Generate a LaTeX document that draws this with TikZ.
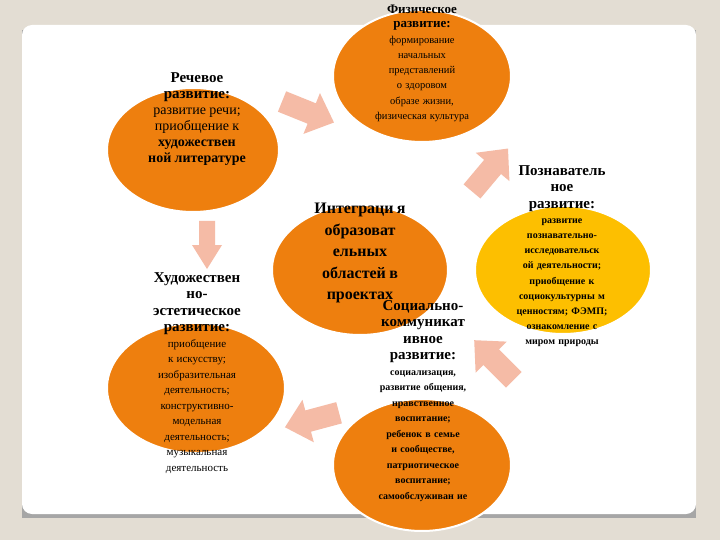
\documentclass[tikz,border=0pt]{standalone}
\usepackage{fontspec}
\setmainfont{Liberation Serif}
\definecolor{bg}{HTML}{E3DDD3}
\definecolor{org}{HTML}{EE7F0E}
\definecolor{yel}{HTML}{FDBF00}
\definecolor{arr}{HTML}{F5BBA6}
\newcommand\myTf{\fontsize{15}{16.5}\selectfont\bfseries}
\begin{document}
\begin{tikzpicture}[x=1pt,y=-1pt,
 ell/.style={draw=white,line width=2pt,fill=#1},
 txt/.style={align=center,text width=#1,inner sep=0pt},
 barrow/.pic={\fill[arr] (-28,-11) -- (4,-11) -- (4,-22) -- (28,0) -- (4,22) -- (4,11) -- (-28,11) -- cycle;},
 sarrow/.pic={\fill[arr] (-24,-8) -- (0,-8) -- (0,-15) -- (24,0) -- (0,15) -- (0,8) -- (-24,8) -- cycle;}]
\fill[bg] (0,0) rectangle (720,540);
\useasboundingbox (0,0) rectangle (720,540);
\fill[gray!70] (22,30) rectangle (696,518);
\fill[white,rounded corners=10pt] (22,25) rectangle (696,514);
% arrows
\pic[rotate=-22] (a1) at (308,112) {barrow};
\pic[rotate=50] (a2) at (490,170) {barrow};
\pic[rotate=135] (a3) at (494,360) {barrow};
\pic[rotate=195] (a4) at (312,420) {barrow};
\pic[rotate=-90] (a5) at (207,245) {sarrow};
% ellipses
\filldraw[ell=org] (193,150) ellipse [x radius=86,y radius=62];
\filldraw[ell=org] (422,76) ellipse [x radius=89,y radius=66];
\filldraw[ell=yel] (563,270) ellipse [x radius=88,y radius=64];
\filldraw[ell=org] (360,270) ellipse [x radius=88,y radius=65];
\filldraw[ell=org] (422,465) ellipse [x radius=89,y radius=66];
\filldraw[ell=org] (196,388) ellipse [x radius=89,y radius=65];
% texts
\node[txt=100pt,anchor=north] (t1) at (197,72) {{\myTf Речевое\\развитие:\par}{\fontsize{14}{16}\selectfont развитие речи; приобщение к \textbf{художествен ной литературе}\par}};
\node[txt=100pt,anchor=north] (t2) at (422,5) {{\fontsize{13}{14}\selectfont\bfseries Физическое\\развитие:\par}{\fontsize{10.5}{15.3}\selectfont формирование\\ начальных представлений о здоровом образе жизни, физическая культура\par}};
\node[txt=100pt,anchor=north] (t3) at (562,165) {{\myTf Познаватель ное\\развитие:\par}{\fontsize{10}{15.2}\selectfont\bfseries развитие познавательно-исследовательск ой деятельности; приобщение к социокультурны м ценностям; ФЭМП; ознакомление с миром природы\par}};
\node[txt=96pt,anchor=north] (t4) at (360,203) {\fontsize{16}{21.5}\selectfont\bfseries Интеграци я образоват ельных областей в проектах\par};
\node[txt=98pt,anchor=north] (t5) at (423,300) {{\myTf Социально-\\коммуникат ивное\\развитие:\par}{\fontsize{10}{15.5}\selectfont\bfseries социализация, развитие общения, нравственное воспитание; ребенок в семье и сообществе, патриотическое воспитание; самообслуживан ие\par}};
\node[txt=105pt,anchor=north] (t6) at (197,272) {{\myTf Художествен\\но-\\эстетическое\\развитие:\par}{\fontsize{11}{15.5}\selectfont приобщение к искусству; изобразительная деятельность; конструктивно-модельная деятельность; музыкальная деятельность\par}};
\end{tikzpicture}
\end{document}
